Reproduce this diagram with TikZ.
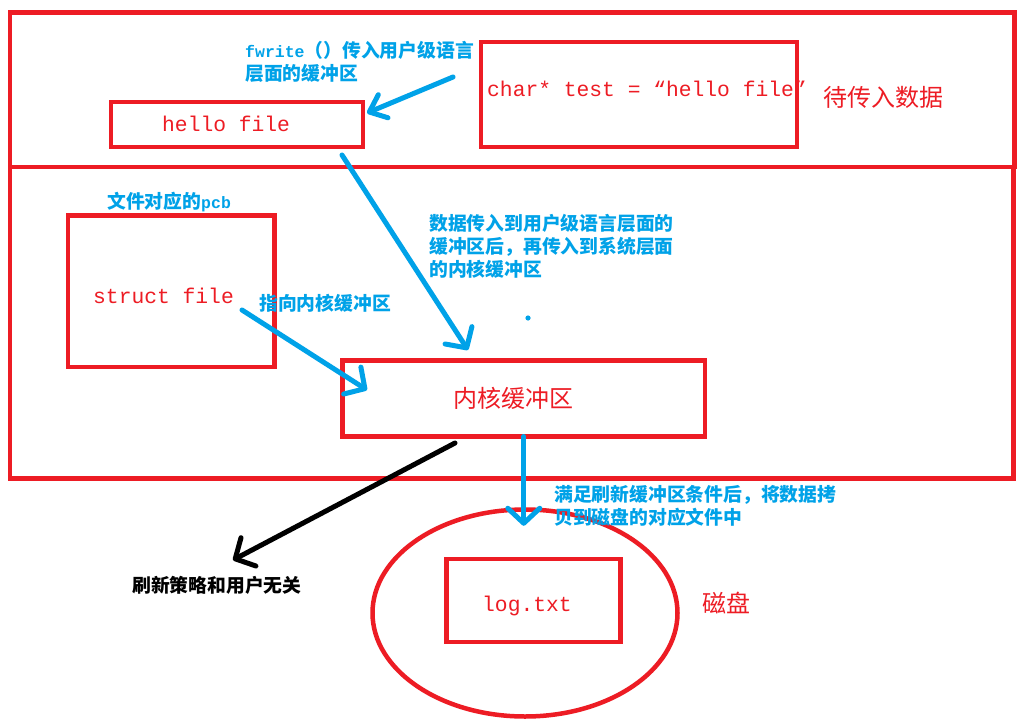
\documentclass[tikz,border=0pt]{standalone}
\usepackage{fontspec}
\usetikzlibrary{arrows.meta,shapes.geometric}
\newfontfamily\cjk{Noto Sans CJK SC}
\newfontfamily\monof{Liberation Mono}
\definecolor{pred}{HTML}{ED1C24}
\definecolor{pblue}{HTML}{00A2E8}
\tikzset{
  redbox/.style 2 args={draw=pred, line width=4.5pt, inner sep=0pt, outer sep=0pt,
    rectangle, minimum width=#1, minimum height=#2},
  codetxt/.style={text=pred, inner sep=0pt, anchor=base west, font=\monof\fontsize{21.3}{24}\selectfont},
  redcjk/.style={text=pred, inner sep=0pt, font=\cjk\fontsize{24}{28}\selectfont},
  note/.style={text=pblue, inner sep=0pt, anchor=west, align=left,
    font=\cjk\bfseries\fontsize{18.8}{23}\selectfont},
  barrow/.style={draw=pblue, line width=5pt, line cap=round,
    -{Straight Barb[length=15pt,width=32pt,line cap=round,line join=round]}},
  karrow/.style={barrow, draw=black},
}
\newcommand{\fw}[1]{{\monof\bfseries\fontsize{16.5}{20}\selectfont #1}}
\begin{document}
\begin{tikzpicture}[x=1pt,y=-1pt]
\fill[white] (0,0) rectangle (1030,722);
\useasboundingbox (0,0) rectangle (1030,722);

% region boxes
\node[redbox={1004.5pt}{154.5pt}] (top) at (512.25,89.75) {};
\node[redbox={1003.5pt}{311.5pt}] (low) at (511.75,322.75) {};

% boxes
\node[redbox={252pt}{45pt}] (hello) at (237,124.5) {};
\node[redbox={316pt}{105pt}] (charbox) at (639,94.5) {};
\node[redbox={206.5pt}{151.5pt}] (structbox) at (171.25,291.25) {};
\node[redbox={362.5pt}{76pt}] (kernel) at (523.75,398.5) {};
\node[draw=pred, line width=4.5pt, ellipse, inner sep=0pt, minimum width=305pt, minimum height=207pt] (disk) at (525,613) {};
\node[redbox={174pt}{83pt}] (logbox) at (533.5,600.5) {};

% box texts
\node[codetxt] (hellotxt) at (162,132) {hello file};
\node[codetxt] (chartxt) at (487,97) {char* test = “hello file”};
\node[codetxt] (structtxt) at (93,303) {struct file};
\node[codetxt] (logtxt) at (482,611) {log.txt};
\node[redcjk] (waittxt) at (883,97.5) {待传入数据};
\node[redcjk] (kerneltxt) at (513.5,398) {内核缓冲区};
\node[redcjk] (disktxt) at (726.5,603) {磁盘};

% notes
\node[note] (fwnote) at (245,62.25) {\fw{fwrite}（）传入用户级语言\\层面的缓冲区};
\node[note] (pcbnote) at (107,202.5) {文件对应的\fw{pcb}};
\node[note] (datanote) at (429,246.5) {数据传入到用户级语言层面的\\缓冲区后，再传入到系统层面\\的内核缓冲区};
\node[note] (pointnote) at (259,303) {指向内核缓冲区};
\node[note] (flushnote) at (554,506) {满足刷新缓冲区条件后，将数据拷\\贝到磁盘的对应文件中};
\node[note, text=black] (blacknote) at (132,585.5) {刷新策略和用户无关};

% arrows
\coordinate (a1s) at (453,77);
\draw[barrow, -{Straight Barb[length=15pt,width=25pt,line cap=round,line join=round]}]
  (a1s) -- ([shift={(4,11)}]hello.north east);
\draw[barrow] ([shift={(-21,8)}]hello.south east) -- ([shift={(125.5,-10.5)}]kernel.north west);
\draw[barrow] ([shift={(-32.5,18.75)}]structbox.east) -- ([shift={(24.5,-8.5)}]kernel.west);
\coordinate (dtop) at (kernel.south |- disk.north);
\draw[barrow] (kernel.south) -- ([shift={(0,18.5)}]dtop);
\coordinate (blk) at (233,560);
\draw[karrow] ([shift={(112.5,6.5)}]kernel.south west) -- (blk);

% dot
\fill[pblue] (528,318) circle (2.6);
\end{tikzpicture}
\end{document}
